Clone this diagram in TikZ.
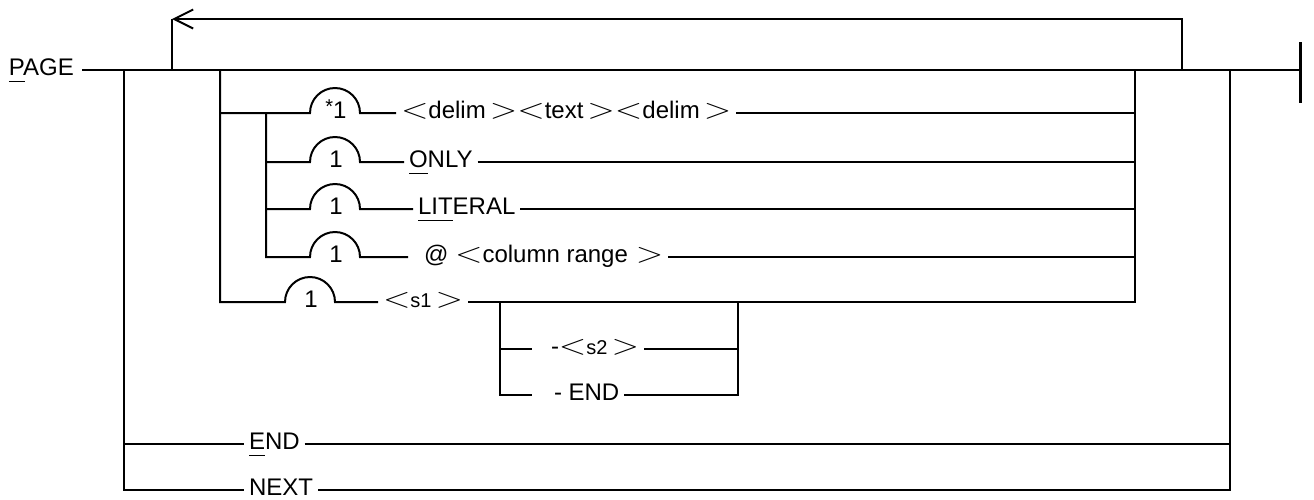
\documentclass[tikz,border=0pt]{standalone}
\usepackage{fontspec}
\usepackage{graphicx}
\setmainfont{Liberation Sans}
\usetikzlibrary{arrows.meta}
\newcommand{\metavar}[1]{\scalebox{1.45}[1.15]{$<$}#1\,\scalebox{1.45}[1.15]{$>$}}
\newcommand{\undl}[1]{\setbox0=\hbox{#1}\rlap{\rule[-7pt]{\wd0}{1.5pt}}#1}
\newcommand{\smallvar}[1]{{\fontsize{20}{22}\selectfont #1}}

\begin{document}
\begin{tikzpicture}[x=1pt,y=1pt,line width=2pt,
  every node/.style={font=\fontsize{24}{28}\selectfont},
  lbl/.style={inner xsep=4pt,inner ysep=0pt,text height=16pt,text depth=6pt,anchor=west},
  bump/.style={inner sep=0pt,minimum width=50pt,text height=16pt,text depth=6pt},
  loopback/.style={-{Straight Barb[length=19pt,width=19pt]}}]
\useasboundingbox (0,0) rectangle (1314,-499);
% row levels
\coordinate (y1) at (0,-113);
\coordinate (y2) at (0,-162);
\coordinate (y3) at (0,-209);
\coordinate (y4) at (0,-257);
\coordinate (y5) at (0,-302);
\coordinate (y6) at (0,-349);
\coordinate (y7) at (0,-395);
\coordinate (y8) at (0,-444);
\coordinate (y9) at (0,-490);
% main line
\node[lbl] (page) at (4,-70) {\undl{P}AGE};
\coordinate (m0) at (82,-70);
\coordinate (mA) at (124,-70);
\coordinate (mL) at (172,-70);
\coordinate (mB) at (220,-70);
\coordinate (mD) at (1135,-70);
\coordinate (mR) at (1182,-70);
\coordinate (mE) at (1230,-70);
\coordinate (m9) at (1300,-70);
\coordinate (bartop) at (1300,-42);
\coordinate (barbot) at (1300,-103);
\draw (m0) -- (m9);
\draw[line width=3pt] (bartop) -- (barbot);
% repeat loop
\coordinate (lt) at (172,-19);
\draw[loopback] (mR) |- (lt);
\draw (lt) -- (mL);
% bumps and labels
\node[bump] (b1) at (336,-113) {\raisebox{5pt}{\fontsize{20}{20}\selectfont *}1};
\node[bump] (b2) at (336,-162) {1};
\node[bump] (b3) at (336,-209) {1};
\node[bump] (b4) at (336,-257) {1};
\node[bump] (b5) at (311,-302) {1};
\node[lbl] (t1) at (396,-113) {\metavar{delim}\metavar{text}\metavar{delim}};
\node[lbl] (t2) at (404,-162) {\undl{O}NLY};
\node[lbl] (t3) at (413,-209) {\undl{LIT}ERAL};
\node[lbl] (t4) at (408,-257) {\hspace{11pt}@\ \metavar{column range\,}};
\node[lbl] (t5) at (378,-302) {\metavar{\smallvar{s1}}};
% options column
\coordinate (c1) at (266,-113);
\draw (mB) -- (mB |- y5) -- (b5.west) arc[start angle=180,end angle=0,radius=25pt] -- (t5.west);
\draw (mB |- y1) -- (b1.west) arc[start angle=180,end angle=0,radius=25pt] -- (t1.west);
\draw (c1) -- (c1 |- y4) -- (b4.west) arc[start angle=180,end angle=0,radius=25pt] -- (t4.west);
\draw (c1 |- y2) -- (b2.west) arc[start angle=180,end angle=0,radius=25pt] -- (t2.west);
\draw (c1 |- y3) -- (b3.west) arc[start angle=180,end angle=0,radius=25pt] -- (t3.west);
\draw (t1.east) -- (mD |- y1);
\draw (t2.east) -- (mD |- y2);
\draw (t3.east) -- (mD |- y3);
\draw (t4.east) -- (mD |- y4);
\draw (t5.east) -- (mD |- y5) -- (mD);
% s1 range
\coordinate (sF) at (500,-302);
\coordinate (sG) at (738,-302);
\coordinate (k6) at (532,-349);
\coordinate (k7) at (532,-395);
\node[lbl] (ts2) at (546,-349) {-\metavar{\smallvar{s2}}};
\node[lbl] (tse) at (549,-395) {- END};
\draw (sF) -- (sF |- y7) -- (k7);
\draw (sF |- y6) -- (k6);
\draw (ts2.east) -- (sG |- y6);
\draw (tse.east) -- (sG |- y7) -- (sG);
% END and NEXT
\node[lbl] (tend) at (244,-444) {\undl{E}ND};
\node[lbl] (tnext) at (244,-490) {NEXT};
\draw (mA) -- (mA |- y9) -- (tnext.west);
\draw (mA |- y8) -- (tend.west);
\draw (tend.east) -- (mE |- y8);
\draw (tnext.east) -- (mE |- y9) -- (mE);
\end{tikzpicture}
\end{document}
